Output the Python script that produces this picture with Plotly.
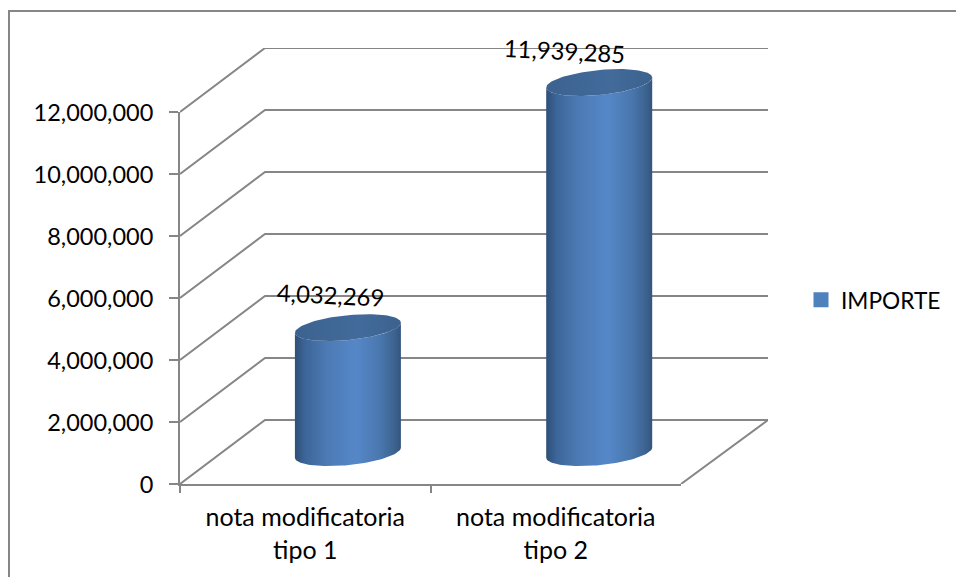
import numpy as np
import plotly.graph_objects as go

# ---- data ----
categories = ["nota modificatoria<br>tipo 1", "nota modificatoria<br>tipo 2"]
series_name = "IMPORTE"
values = [4032269, 11939285]
value_labels = ["4,032,269", "11,939,285"]
y_ticks = [0, 2000000, 4000000, 6000000, 8000000, 10000000, 12000000]

# ---- oblique projection settings (pixels on the 956x577 page) ----
W, H = 956, 577
X0, Y0 = 180, 484          # front-left origin of the plot
PX_PER_CAT = 250.5
PX_PER_VAL = 31 / 1e6
DEPTH_X, DEPTH_Y = 85, 64  # floor depth in px
BACK_EXTRA_PX = 2          # back wall runs slightly further right
CYL_A, CYL_B, CYL_S = 53, 12.5, 5  # ellipse half width, half height, tilt
CYL_DEPTH = 0.49
CYL_SHIFT_PX = 1.0
GREY = "#868686"
FONT = "Lato, Carlito, Calibri, sans-serif"
FS = 23.5

dx = DEPTH_X / PX_PER_CAT
dy = DEPTH_Y / PX_PER_VAL
a, b, s = CYL_A / PX_PER_CAT, CYL_B / PX_PER_VAL, CYL_S / PX_PER_VAL
x_max = 2 + dx + BACK_EXTRA_PX / PX_PER_CAT
y_max = y_ticks[-1] + dy

fig = go.Figure()

# wall / floor lines
for v in y_ticks:
    fig.add_trace(go.Scatter(x=[0, dx, x_max], y=[v, v + dy, v + dy], mode="lines",
                             line=dict(color=GREY, width=2), showlegend=False, hoverinfo="skip"))
fig.add_trace(go.Scatter(x=[2, x_max], y=[0, dy], mode="lines",
                         line=dict(color=GREY, width=2), showlegend=False, hoverinfo="skip"))

body_scale = [[0, "#2e4f78"], [0.1, "#3d6699"], [0.3, "#4c7ab4"], [0.58, "#5587c8"],
               [0.8, "#4a77ae"], [0.93, "#3d6592"], [1, "#33557d"]]
top_scale = [[0, "#3c628f"], [0.6, "#426b9b"], [1, "#3c628e"]]

t = np.linspace(0, 2 * np.pi, 121)
for i, val in enumerate(values):
    cx = i + 0.5 + CYL_DEPTH * dx + (CYL_SHIFT_PX + i * 0.8) / PX_PER_CAT
    base = CYL_DEPTH * dy
    top = base + val
    tf = np.linspace(np.pi, 0, 61)          # left -> right through the front
    xb = cx + a * np.cos(tf)
    yb = base - b * np.sin(tf) + s * np.cos(tf)
    xt = (cx + a * np.cos(tf))[::-1]
    yt = (top - b * np.sin(tf) + s * np.cos(tf))[::-1]
    fig.add_trace(go.Scatter(
        x=np.r_[xb, xt, xb[0]], y=np.r_[yb, yt, yb[0]], mode="lines",
        line=dict(width=0), fill="toself",
        fillgradient=dict(type="horizontal", colorscale=body_scale,
                          start=cx - a, stop=cx + a),
        showlegend=False, hoverinfo="skip"))
    fig.add_trace(go.Scatter(
        x=cx + a * np.cos(t), y=top + b * np.sin(t) + s * np.cos(t), mode="lines",
        line=dict(width=0), fill="toself",
        fillgradient=dict(type="horizontal", colorscale=top_scale,
                          start=cx - a, stop=cx + a),
        showlegend=False, hoverinfo="skip"))

# data labels
label_dx = [-0.066, -0.13]
label_up = [33, 32]
for i, val in enumerate(values):
    fig.add_annotation(x=i + 0.5 + CYL_DEPTH * dx + label_dx[i],
                       y=val + CYL_DEPTH * dy + label_up[i] / PX_PER_VAL,
                       xref="x", yref="y", text=value_labels[i], showarrow=False,
                       textangle=3, font=dict(family=FONT, size=23.8, color="#000000"))

# real axes (second subplot) + legend entry
fig.add_trace(go.Scatter(x=[categories[0], categories[1]], y=[None, None], xaxis="x2", yaxis="y2",
                         mode="markers", name=series_name,
                         marker=dict(symbol="square", size=15, color="#4f81bd"),
                         hoverinfo="skip"))

x_dom = [X0 / W, (X0 + PX_PER_CAT * x_max) / W]
y_dom = [(H - Y0) / H, (H - Y0 + PX_PER_VAL * y_max) / H]
fig.update_layout(
    width=W, height=H, autosize=False, margin=dict(l=0, r=0, t=0, b=0, autoexpand=False),
    paper_bgcolor="white", plot_bgcolor="rgba(0,0,0,0)",
    font=dict(family=FONT, size=FS, color="#000000"),
    xaxis=dict(domain=x_dom, range=[0, x_max], visible=False, fixedrange=True),
    yaxis=dict(domain=y_dom, range=[0, y_max], visible=False, fixedrange=True),
    xaxis2=dict(domain=[X0 / W, (X0 + 2 * PX_PER_CAT) / W], anchor="y2", type="category",
                categoryorder="array", categoryarray=categories, range=[-0.5, 1.5],
                tickson="boundaries", showgrid=False, zeroline=False,
                showline=True, linecolor=GREY, linewidth=2,
                ticks="outside", ticklen=7, tickwidth=2, tickcolor=GREY,
                ticklabelstandoff=10,
                tickfont=dict(family=FONT, size=25)),
    yaxis2=dict(domain=[(H - Y0) / H, (H - Y0 + PX_PER_VAL * y_ticks[-1]) / H], anchor="x2",
                range=[0, y_ticks[-1]], tickvals=y_ticks, tickformat=",d",
                showgrid=False, zeroline=False,
                showline=True, linecolor=GREY, linewidth=2,
                ticks="outside", ticklen=9, tickwidth=2, tickcolor=GREY,
                ticklabelstandoff=11, ticklabelshift=1,
                tickfont=dict(family=FONT, size=FS)),
    legend=dict(x=801 / W, y=(H - 300) / H, xanchor="left", yanchor="middle",
                bgcolor="rgba(0,0,0,0)", font=dict(family=FONT, size=22.7),
                itemwidth=30),
    shapes=[dict(type="rect", xref="paper", yref="paper", x0=9 / W, x1=1.01,
                 y0=-0.01, y1=(H - 11) / H, line=dict(color=GREY, width=2),
                 fillcolor="rgba(0,0,0,0)", layer="below")],
)

fig.write_html("out.html", config=dict(displayModeBar=False),
               post_script="document.body.style.margin='0';document.body.style.overflow='hidden';")
